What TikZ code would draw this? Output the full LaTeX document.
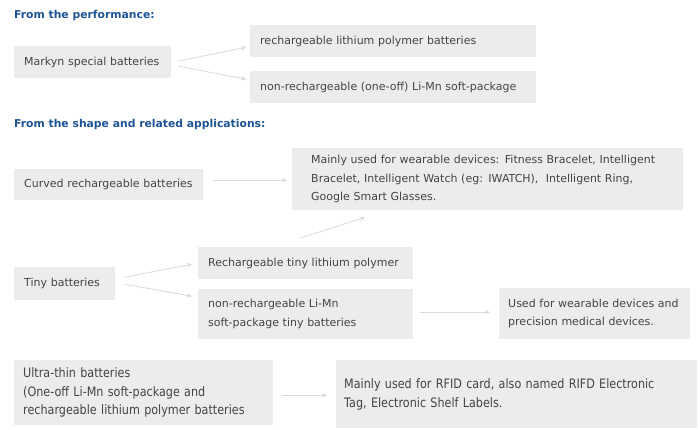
\documentclass[tikz,border=0pt]{standalone}
\usepackage{fontspec}
\setmainfont{DejaVu Sans}
\newfontfamily\narrowfont[FakeStretch=0.86]{DejaVu Sans}
\usepackage{xcolor}
\usetikzlibrary{arrows.meta}
\definecolor{boxgray}{RGB}{236,236,236}
\definecolor{linegray}{RGB}{218,218,218}
\definecolor{textgray}{RGB}{68,68,68}
\definecolor{headblue}{RGB}{28,84,150}

\begin{document}
\begin{tikzpicture}[x=1pt,y=-1pt,
  box/.style={fill=boxgray,text=textgray,anchor=north west,align=left,inner xsep=10pt,inner ysep=0pt,font=\fontsize{11}{18.5}\selectfont},
  head/.style={text=headblue,anchor=west,inner sep=0pt,font=\fontsize{10.8}{13}\selectfont\bfseries},
  link/.style={linegray,line width=0.8pt,-{Stealth[length=5pt,width=4.5pt]}}]
\useasboundingbox (0,0) rectangle (700,430);

\node[head] (perf) at (14,16) {From the performance:};
\node[box,text width=137pt,minimum height=32pt] (markyn) at (14,46) {Markyn special batteries};
\node[box,text width=266pt,minimum height=32pt] (lipo) at (250,25) {rechargeable lithium polymer batteries};
\node[box,text width=266pt,minimum height=32pt] (limn) at (250,71) {non-rechargeable (one-off) Li-Mn soft-package};

\node[head] (shape) at (14,125) {From the shape and related applications:};
\node[box,text width=169pt,minimum height=31pt] (curved) at (14,169) {Curved rechargeable batteries};
\node[box,inner xsep=19pt,text width=353pt,minimum height=62pt] (wear) at (292,148)
  {Mainly used for wearable devices: Fitness Bracelet, Intelligent\\Bracelet, Intelligent Watch (eg: IWATCH),\ \ Intelligent Ring,\\Google Smart Glasses.};
\node[box,text width=81pt,minimum height=33pt] (tiny) at (14,267) {Tiny batteries};
\node[box,text width=195pt,minimum height=32pt] (tinylipo) at (198,247) {Rechargeable tiny lithium polymer};
\node[box,text width=195pt,minimum height=50pt] (tinylimn) at (198,289) {non-rechargeable Li-Mn\\soft-package tiny batteries};
\node[box,inner xsep=9pt,text width=173pt,minimum height=51pt] (medical) at (499,288) {Used for wearable devices and\\precision medical devices.};
\node[box,inner xsep=9pt,text width=241pt,minimum height=65pt,font=\narrowfont\fontsize{13}{18.5}\selectfont] (ultra) at (14,360)
  {Ultra-thin batteries\\(One-off Li-Mn soft-package and\\rechargeable lithium polymer batteries};
\node[box,inner xsep=8pt,text width=345pt,minimum height=68pt,font=\narrowfont\fontsize{13}{18.5}\selectfont] (rfid) at (336,360)
  {Mainly used for RFID card, also named RIFD Electronic\\Tag, Electronic Shelf Labels.};

\draw[link] ([xshift=7pt,yshift=1pt]markyn.east) -- ([xshift=-4pt,yshift=-6pt]lipo.west);
\draw[link] ([xshift=7pt,yshift=-4pt]markyn.east) -- ([xshift=-4pt,yshift=8pt]limn.west);
\draw[link] ([xshift=10pt,yshift=4.5pt]curved.east) -- ([xshift=-5pt,yshift=-1pt]wear.west);
\draw[link] ([xshift=-5.5pt,yshift=9pt]tinylipo.north) -- ([xshift=73pt,yshift=-7pt]wear.south west);
\draw[link] ([xshift=9pt,yshift=6.5pt]tiny.east) -- ([xshift=-6pt,yshift=-1pt]tinylipo.west);
\draw[link] ([xshift=9pt,yshift=-0.5pt]tiny.east) -- ([xshift=-6pt,yshift=18pt]tinylimn.west);
\draw[link] ([xshift=7pt,yshift=2pt]tinylimn.east) -- ([xshift=-9pt,yshift=1.5pt]medical.west);
\draw[link] ([xshift=9pt,yshift=-2.5pt]ultra.east) -- ([xshift=-9pt,yshift=-1pt]rfid.west);
\end{tikzpicture}
\end{document}
